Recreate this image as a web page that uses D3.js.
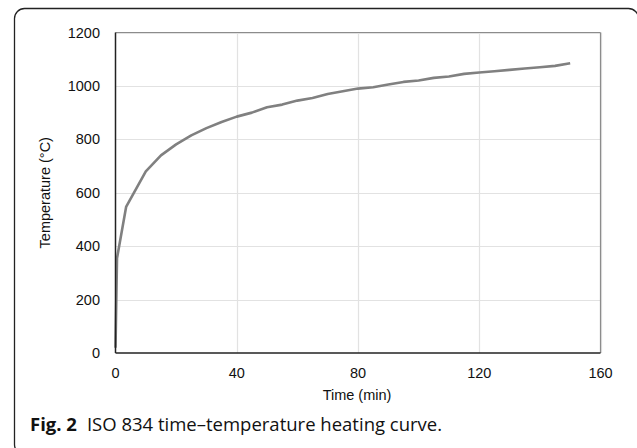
<!DOCTYPE html>
<html>
<head>
<meta charset="utf-8">
<script src="https://cdn.jsdelivr.net/npm/d3@7"></script>
<style>
  body { margin: 0; background: #fff; }
  svg { display: block; }
</style>
</head>
<body>
<div id="chart"></div>
<script>
// time (min) and furnace temperature
var times = [0, 0.5, 3.5, 10, 15, 20, 25, 30, 35, 40, 45, 50, 55, 60, 65, 70, 75,
             80, 85, 90, 95, 100, 105, 110, 115, 120, 125, 130, 135, 140, 145, 150]
var temps = [20, 355, 547, 680, 740, 781, 815, 842, 865, 885, 900, 920, 930, 945, 955, 970, 980,
             990, 995, 1005, 1015, 1020, 1030, 1035, 1045, 1050, 1055, 1060, 1065, 1070, 1075, 1085]
var xTicks = [0, 40, 80, 120, 160]
var yTicks = [0, 200, 400, 600, 800, 1000, 1200]

var W = 637, H = 448
var plot = {left: 115.5, top: 32.5, right: 600.5, bottom: 353}

var svg = d3.select("#chart").append("svg")
    .attr("width", W)
    .attr("height", H)

// figure frame
svg.append("rect")
    .attr("x", 14.5).attr("y", 8.5)
    .attr("width", 624).attr("height", 446)
    .attr("rx", 10)
    .attr("fill", "none")
    .attr("stroke", "#222")
    .attr("stroke-width", 1.3)

var xScale = d3.scaleLinear().domain([0, 160]).range([plot.left, plot.right])
var yScale = d3.scaleLinear().domain([0, 1200]).range([plot.bottom, plot.top])

// gridlines
svg.append("g").selectAll("line")
    .data(yTicks.slice(1))
    .enter().append("line")
    .attr("x1", plot.left).attr("x2", plot.right)
    .attr("y1", function(d){ return Math.round(yScale(d)) + 0.5 })
    .attr("y2", function(d){ return Math.round(yScale(d)) + 0.5 })
    .attr("stroke", "#e2e2e2")
    .attr("stroke-width", 1.2)

svg.append("g").selectAll("line")
    .data(xTicks.slice(1))
    .enter().append("line")
    .attr("y1", plot.top).attr("y2", plot.bottom)
    .attr("x1", function(d){ return Math.round(xScale(d)) + 0.5 })
    .attr("x2", function(d){ return Math.round(xScale(d)) + 0.5 })
    .attr("stroke", "#e2e2e2")
    .attr("stroke-width", 1.2)

// plot border (top and right are grey)
svg.append("line")
    .attr("x1", plot.left).attr("x2", plot.right)
    .attr("y1", plot.top).attr("y2", plot.top)
    .attr("stroke", "#8c8c8c").attr("stroke-width", 1.2)
svg.append("line")
    .attr("x1", plot.right).attr("x2", plot.right)
    .attr("y1", plot.top).attr("y2", plot.bottom)
    .attr("stroke", "#8c8c8c").attr("stroke-width", 1.2)

// curve
var line = d3.line()
    .x(function(d, i){ return xScale(times[i]) })
    .y(function(d){ return yScale(d) })

svg.append("path")
    .datum(temps)
    .attr("d", line)
    .attr("fill", "none")
    .attr("stroke", "#808080")
    .attr("stroke-width", 2.6)
    .attr("stroke-linejoin", "round")

// axes
svg.append("line")
    .attr("x1", plot.left).attr("x2", plot.left)
    .attr("y1", plot.top).attr("y2", plot.bottom)
    .attr("stroke", "#222").attr("stroke-width", 1.5)
svg.append("line")
    .attr("x1", plot.left).attr("x2", plot.right)
    .attr("y1", plot.bottom).attr("y2", plot.bottom)
    .attr("stroke", "#222").attr("stroke-width", 1.5)

var tickFont = "'Liberation Sans', Arial, sans-serif"

svg.append("g").selectAll("text")
    .data(yTicks)
    .enter().append("text")
    .attr("x", 100)
    .attr("y", function(d){ return yScale(d) + 5 })
    .attr("text-anchor", "end")
    .attr("font-family", tickFont)
    .attr("font-size", "14.5px")
    .attr("fill", "#111")
    .text(function(d){ return d })

svg.append("g").selectAll("text")
    .data(xTicks)
    .enter().append("text")
    .attr("x", function(d){ return xScale(d) })
    .attr("y", 378)
    .attr("text-anchor", "middle")
    .attr("font-family", tickFont)
    .attr("font-size", "14.5px")
    .attr("fill", "#111")
    .text(function(d){ return d })

svg.append("text")
    .attr("x", 357)
    .attr("y", 400)
    .attr("text-anchor", "middle")
    .attr("font-family", tickFont)
    .attr("font-size", "14.5px")
    .attr("fill", "#111")
    .text("Time (min)")

svg.append("text")
    .attr("transform", "translate(50," + (plot.top + plot.bottom) / 2 + ") rotate(-90)")
    .attr("text-anchor", "middle")
    .attr("font-family", tickFont)
    .attr("font-size", "14.5px")
    .attr("fill", "#111")
    .text("Temperature (°C)")

// caption
var cap = svg.append("text")
    .attr("x", 30)
    .attr("y", 431)
    .attr("font-family", "'Open Sans', 'Noto Sans', sans-serif")
    .attr("font-size", "18.5px")
    .attr("fill", "#111")
cap.append("tspan").attr("font-weight", "bold").text("Fig. 2")
cap.append("tspan").attr("dx", 10).text("ISO 834 time\u2013temperature heating curve.")
</script>
</body>
</html>
